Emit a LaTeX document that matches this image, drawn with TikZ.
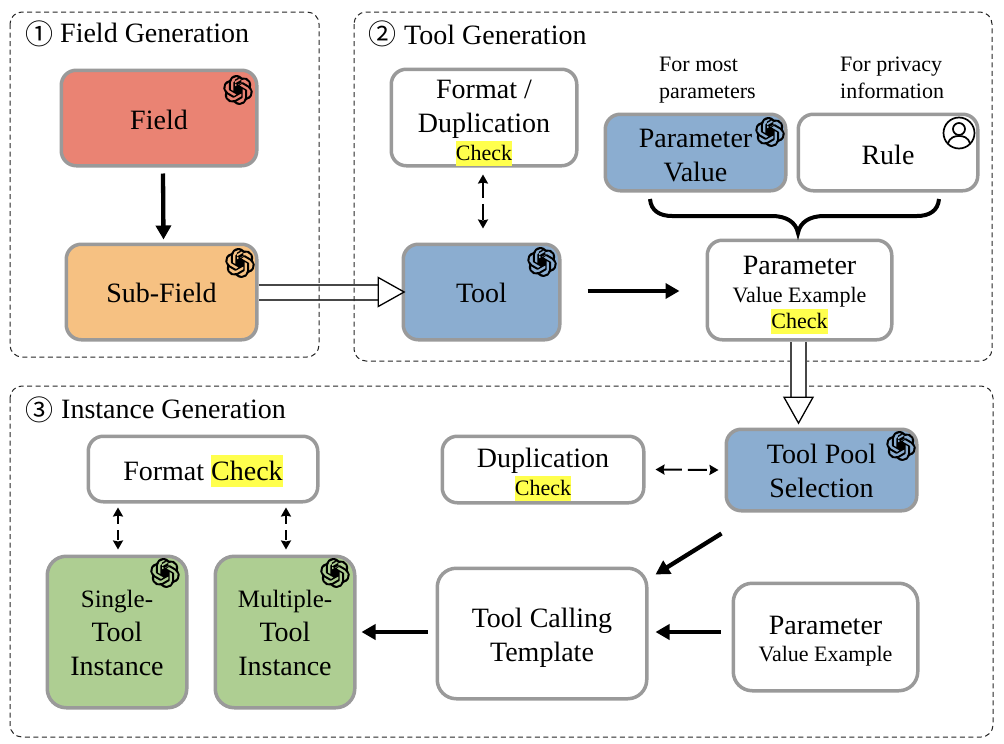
\documentclass[tikz,border=0pt]{standalone}
\usepackage{fontspec}
\setmainfont{Liberation Serif}
\newfontfamily\cjk{Noto Sans CJK SC}
\usetikzlibrary{arrows.meta,calc,svg.path}
\definecolor{boxgray}{HTML}{9A9A9A}
\definecolor{cfield}{HTML}{EA8373}
\definecolor{csub}{HTML}{F6C182}
\definecolor{cblue}{HTML}{8BADD0}
\definecolor{cgreen}{HTML}{AECE92}
\definecolor{hl}{HTML}{FFFF4D}
\newcommand{\hlt}[1]{{\setlength{\fboxsep}{0pt}\colorbox{hl}{\rule[-.25em]{0pt}{1.14em}#1}}}
\newcommand{\fsbig}{\fontsize{28}{34}\selectfont}
\newcommand{\fsmid}{\fontsize{25}{33}\selectfont}
\newcommand{\fssmall}{\fontsize{22}{27}\selectfont}
\tikzset{
 x=1pt,y=-1pt,
 group/.style={draw=black!85,dash pattern=on 5pt off 3.5pt,line width=1pt,rounded corners=12pt},
 boxb/.style={draw=boxgray,line width=3.5pt,rounded corners=15pt,fill=white,align=center,inner sep=0pt,font=\fsbig},
 lab/.style={font=\fsbig,inner sep=0pt,anchor=base west},
 smalllab/.style={font=\fssmall,inner sep=0pt,align=left},
 big/.style={line width=4.3pt,-{Stealth[length=14pt,width=15pt,inset=0pt]}},
 thindash/.style={line width=2pt,dash pattern=on #1 off 6pt,{Stealth[length=9pt,width=10pt,inset=1pt]}-{Stealth[length=9pt,width=10pt,inset=1pt]}},
 hollow/.style={draw=black!72,line width=2pt,double=white,double distance=13pt,
   -{Triangle[length=28pt,width=31pt,fill=white,color=black,line width=1.3pt]}},
 logo/.pic={
  \fill[black,even odd rule,shift={(-15,-15)},xscale=1.25,yscale=-1.25] svg "M22.2819 9.8211a5.9847 5.9847 0 0 0-.5157-4.9108 6.0462 6.0462 0 0 0-6.5098-2.9A6.0651 6.0651 0 0 0 4.9807 4.1818a5.9847 5.9847 0 0 0-3.9977 2.9 6.0462 6.0462 0 0 0 .7427 7.0966 5.98 5.98 0 0 0 .511 4.9107 6.051 6.051 0 0 0 6.5146 2.9001A5.9847 5.9847 0 0 0 13.2599 24a6.0557 6.0557 0 0 0 5.7718-4.2058 5.9894 5.9894 0 0 0 3.9977-2.9001 6.0557 6.0557 0 0 0-.7475-7.0729zm-9.022 12.6081a4.4755 4.4755 0 0 1-2.8764-1.0408l.1419-.0804 4.7783-2.7582a.7948.7948 0 0 0 .3927-.6813v-6.7369l2.02 1.1686a.071.071 0 0 1 .038.052v5.5826a4.504 4.504 0 0 1-4.4945 4.4944zm-9.6607-4.1254a4.4708 4.4708 0 0 1-.5346-3.0137l.142.0852 4.783 2.7582a.7712.7712 0 0 0 .7806 0l5.8428-3.3685v2.3324a.0804.0804 0 0 1-.0332.0615L9.74 19.9502a4.4992 4.4992 0 0 1-6.1408-1.6464zM2.3408 7.8956a4.485 4.485 0 0 1 2.3655-1.9728V11.6a.7664.7664 0 0 0 .3879.6765l5.8144 3.3543-2.0201 1.1685a.0757.0757 0 0 1-.071 0l-4.8303-2.7865A4.504 4.504 0 0 1 2.3408 7.872zm16.5963 3.8558L13.1038 8.364 15.1192 7.2a.0757.0757 0 0 1 .071 0l4.8303 2.7913a4.4944 4.4944 0 0 1-.6765 8.1042v-5.6772a.79.79 0 0 0-.407-.667zm2.0107-3.0231l-.142-.0852-4.7735-2.7818a.7759.7759 0 0 0-.7854 0L9.409 9.2297V6.8974a.0662.0662 0 0 1 .0284-.0615l4.8303-2.7866a4.4992 4.4992 0 0 1 6.6802 4.66zM8.3065 12.863l-2.02-1.1638a.0804.0804 0 0 1-.038-.0567V6.0742a4.4992 4.4992 0 0 1 7.3757-3.4537l-.142.0805L8.704 5.459a.7948.7948 0 0 0-.3927.6813zm1.0976-2.3654l2.602-1.4998 2.6069 1.4998v2.9994l-2.5974 1.4997-2.6067-1.4997Z";
 },
 person/.pic={
  \draw[line width=1.7pt] (0,0) circle[radius=15.5];
  \draw[line width=1.7pt] (0,-4) circle[radius=6];
  \draw[line width=1.7pt] (-11,11) .. controls (-9.5,4) and (-4,3) .. (0,3) .. controls (4,3) and (9.5,4) .. (11,11);
 }
}
% name, x1,y1,x2,y2, opts, first-line height, text
\newcommand{\rbox}[8]{%
 \node[boxb,minimum width=#4-#2-2.5,minimum height=#5-#3-2.5,#6] (#1) at ({(#2+#4)/2},{(#3+#5)/2}) {\rule{0pt}{#7pt}#8};}
\begin{document}
\begin{tikzpicture}
\useasboundingbox (0,0) rectangle (1004,744);
% boxes
\rbox{field}{60}{69}{258}{167}{fill=cfield}{23}{Field}
\rbox{sub}{65}{243}{258}{341}{fill=csub}{21}{Sub-Field}
\rbox{tool}{402}{243}{561}{341}{fill=cblue}{21}{Tool}
\rbox{fmt}{390}{69}{578}{166}{}{29}{Format /\\Duplication\\[-6pt]{\fssmall\hlt{Check}}}
\rbox{pv}{604}{113}{787}{192}{fill=cblue}{25}{Parameter\\Value}
\rbox{rule}{797}{113}{979}{192}{}{25}{Rule}
\rbox{pve}{706}{239}{893}{341}{}{28}{Parameter\\[-6pt]{\fssmall Value Example}\\[-8pt]{\fssmall\hlt{Check}}}
\rbox{pool}{725}{428}{918}{512}{fill=cblue}{21}{Tool Pool\\Selection}
\rbox{dup}{441}{435}{645}{504}{}{29}{Duplication\\[-6pt]{\fssmall\hlt{Check}}}
\rbox{fc}{87}{435}{319}{503}{}{29}{Format \hlt{Check}}
\rbox{single}{46}{555}{188}{709}{fill=cgreen,rounded corners=19pt}{20}{\fsmid Single-\\Tool\\{\fsbig Instance}}
\rbox{multi}{214}{555}{356}{709}{fill=cgreen,rounded corners=19pt}{20}{\fsmid Multiple-\\Tool\\{\fsbig Instance}}
\rbox{tpl}{436}{567}{648}{700}{rounded corners=19pt}{27}{Tool Calling\\Template}
\rbox{pve2}{732}{582}{919}{692}{rounded corners=19pt}{27}{Parameter\\[-7pt]{\fssmall Value Example}}
% hollow arrow crossed by the group outlines
\draw[hollow] (sub.east) -- ($(tool.west)+(4,0)$);
% groups
\draw[group] (10,12) rectangle (319,357);
\draw[group] (354,12) rectangle (992,361);
\draw[group] (10,386) rectangle (993,737);
\node[font=\fontsize{28}{28}\selectfont\cjk,inner sep=0pt] (n1) at (39,34) {①};
\node[font=\fontsize{28}{28}\selectfont\cjk,inner sep=0pt] (n2) at (382,34) {②};
\node[font=\fontsize{28}{28}\selectfont\cjk,inner sep=0pt] (n3) at (39,410) {③};
\node[lab] (t1) at (60,42) {Field Generation};
\node[lab] (t2) at (404,44) {Tool Generation};
\node[lab] (t3) at (61,418) {Instance Generation};
\node[smalllab,anchor=base west] (a1) at (659,98) {For most\\parameters};
\node[smalllab,anchor=base west] (a2) at (840,98) {For privacy\\information};
% logos
\path (238,90) pic {logo};
\path (240,263) pic {logo};
\path (542,262) pic {logo};
\path (770,132) pic {logo};
\path (901,446) pic {logo};
\path (165,573) pic {logo};
\path (335,573) pic {logo};
\path (959,133) pic {person};
% brace
\coordinate (bl) at (650,199);
\coordinate (br) at (939,199);
\coordinate (bt) at (798,233);
\draw[line width=4pt] (bl) .. controls (651,211) and (660,216) .. (672,216) -- (772,216)
   .. controls (786,216) and (796,222) .. (bt) .. controls (800,222) and (810,216) .. (824,216)
   -- (917,216) .. controls (929,216) and (938,211) .. (br);
% connectors
\draw[hollow] ($(pve.south)+(-1,0)$) -- ($(pve.south |- pool.north)+(-1,-3)$);
\draw[big] ($(field.south)+(4,6)$) -- ($(sub.north)+(2,-3)$);
\draw[big] ($(tool.east)+(26,-1)$) -- ($(pve.west)+(-26,1)$);
\draw[big] ($(pool.south)+(-100,21)$) -- ($(tpl.north east)+(7,8)$);
\draw[big] ($(pve2.west)+(-11,-5)$) -- ($(tpl.east)+(7,-1.5)$);
\draw[big] ($(tpl.west)+(-8,-1.5)$) -- ($(multi.east)+(5,0)$);
\draw[thindash=16pt] ($(fmt.south)+(-1,7)$) -- ($(tool.north)+(1.5,-14)$);
\draw[thindash=19pt] ($(dup.east)+(10,0)$) -- ($(pool.west)+(-6,0)$);
\draw[thindash=9.5pt] ($(fc.south)+(-85,4)$) -- ($(single.north)+(1,-5)$);
\draw[thindash=9.5pt] ($(fc.south)+(83,4)$) -- ($(multi.north)+(1,-5)$);
\end{tikzpicture}
\end{document}
